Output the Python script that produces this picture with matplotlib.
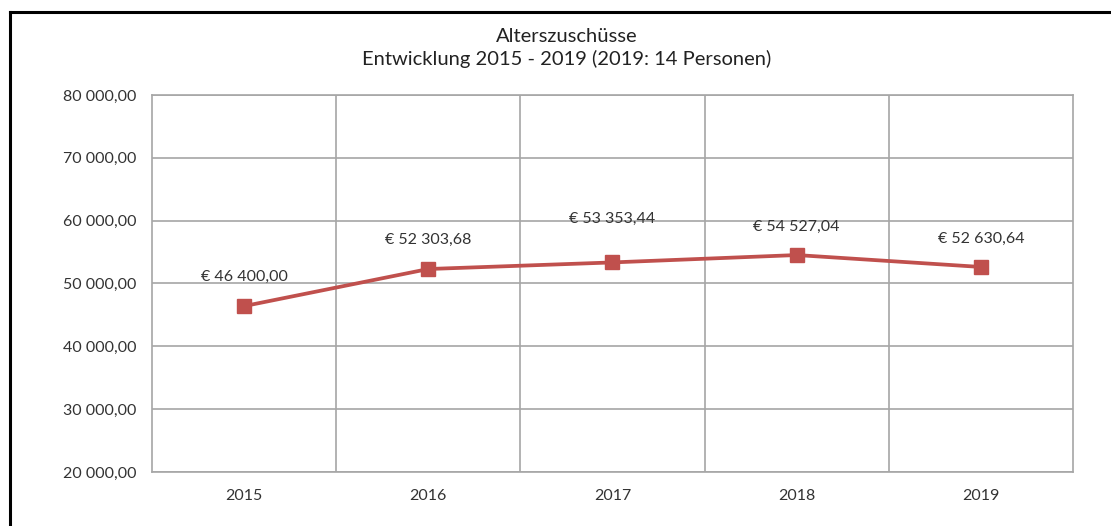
import numpy as np
import matplotlib
matplotlib.use("Agg")
import matplotlib.pyplot as plt
from matplotlib.lines import Line2D
from matplotlib.ticker import FuncFormatter

plt.rcParams['font.family'] = ['Lato', 'DejaVu Sans']

# Daten
jahre = ['2015', '2016', '2017', '2018', '2019']
betraege = [46400.00, 52303.68, 53353.44, 54527.04, 52630.64]
titel = "Alterszuschüsse\nEntwicklung 2015 - 2019 (2019: 14 Personen)"


def de_zahl(v):
    s = f"{v:,.2f}"
    return s.replace(",", " ").replace(".", ",")


fig = plt.figure(figsize=(11.11, 5.26), dpi=100)
ax = fig.add_axes([0.1368, 0.1027, 0.829, 0.7167])

x = np.arange(len(jahre))
ax.plot(x, betraege, color='#C0504D', lw=2.7, marker='s', ms=10.5,
        markerfacecolor='#C0504D', markeredgecolor='#C0504D', zorder=3)

# Beschriftungen ueber den Punkten (2017 etwas hoeher)
dy = [29, 29, 44, 28, 28]
for xi, v, d in zip(x, betraege, dy):
    ax.annotate("€ " + de_zahl(v), (xi, v), xytext=(0, d),
                textcoords='offset pixels', ha='center', va='center',
                fontsize=11.5, color='#333333')

ax.set_xlim(-0.5, len(jahre) - 0.5)
ax.set_ylim(20000, 80000)
ax.set_yticks(np.arange(20000, 80001, 10000))
ax.yaxis.set_major_formatter(FuncFormatter(lambda v, p: de_zahl(v)))
ax.set_xticks(x)
ax.set_xticklabels(jahre)
ax.set_xticks(np.arange(0.5, len(jahre) - 0.5, 1), minor=True)

ax.grid(axis='y', which='major', color='#A6A6A6', lw=1.2)
ax.grid(axis='x', which='minor', color='#A6A6A6', lw=1.2)
ax.tick_params(which='both', length=0, labelsize=11.5, colors='#333333')
ax.tick_params(axis='y', pad=11)
ax.tick_params(axis='x', pad=12)
for sp in ax.spines.values():
    sp.set_color('#A6A6A6')
    sp.set_linewidth(1.2)

fig.text(0.51, 0.909, titel, ha='center', va='center', fontsize=14.5,
         color='#222222', linespacing=1.3)

# Rahmen oben und links
fig.add_artist(Line2D([0.009, 1.0], [0.977, 0.977], color='black', lw=2.2))
fig.add_artist(Line2D([0.009, 0.009], [0.0, 0.977], color='black', lw=2.2))

fig.savefig("out.png", dpi=100)
